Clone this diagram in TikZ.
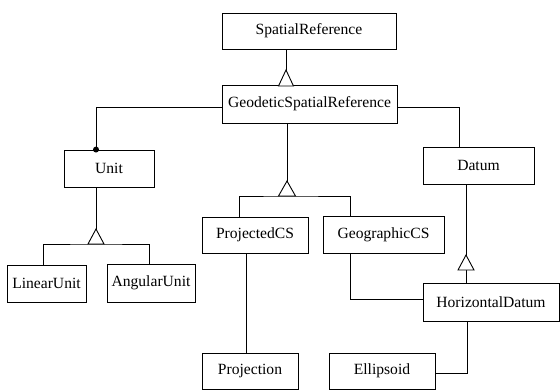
\documentclass[tikz,border=0pt]{standalone}
\usepackage{fontspec}
\setmainfont{Liberation Serif}
\begin{document}
\begin{tikzpicture}[x=1bp,y=-1bp,
  box/.style={draw, line width=0.9bp, inner sep=0pt, font=\fontsize{15.6bp}{18bp}\selectfont},
  conn/.style={line width=0.9bp},
  tri/.style={draw, fill=white, line width=0.9bp, line join=miter}]
\useasboundingbox (0,0) rectangle (560,390);
\fill[white] (0,0) rectangle (560,390);
% boxes
\node[box, minimum width=174bp, minimum height=36bp] (sr)    at (309,31)    {SpatialReference};
\node[box, minimum width=175bp, minimum height=38bp] (gsr)   at (309.5,104) {GeodeticSpatialReference};
\node[box, minimum width=90bp,  minimum height=37bp] (unit)  at (109,168.5) {Unit};
\node[box, minimum width=79bp,  minimum height=37bp] (lin)   at (46.5,283.5){LinearUnit};
\node[box, minimum width=88bp,  minimum height=38bp] (ang)   at (151,283)   {AngularUnit};
\node[box, minimum width=111bp, minimum height=37bp] (datum) at (478.5,165.5){Datum};
\node[box, minimum width=106bp, minimum height=36bp] (pcs)   at (255,235)   {ProjectedCS};
\node[box, minimum width=121bp, minimum height=37bp] (gcs)   at (383.5,234.5){GeographicCS};
\node[box, minimum width=136bp, minimum height=38bp] (hd)    at (491,302)   {HorizontalDatum};
\node[box, minimum width=96bp,  minimum height=36bp] (proj)  at (250,371)   {Projection};
\node[box, minimum width=106bp, minimum height=36bp] (ell)   at (382,371)   {Ellipsoid};
% helper coordinates
\coordinate (xa) at (286,0);
\coordinate (xb) at (287,0);
\coordinate (xu) at (96,0);
\coordinate (xd) at (459,0);
\coordinate (xh) at (466,0);
\coordinate (xl) at (43,0);
\coordinate (xr) at (149,0);
\coordinate (xp) at (239,0);
\coordinate (xg) at (350,0);
\coordinate (xj) at (246,0);
\coordinate (xe) at (467,0);
\coordinate (jb) at (287,196);
\coordinate (ju) at (96,244);
\coordinate (ta) at (286,70);
\coordinate (tb) at (287,181);
\coordinate (tu) at (96,229);
\coordinate (th) at (466,255);
% connectors
\draw[conn] (sr.south -| xa) -- (gsr.north -| xa);
\draw[conn] ([yshift=-3bp]gsr.west) -| (unit.north -| xu);
\fill (unit.north -| xu) circle (3bp);
\draw[conn] ([yshift=-3bp]gsr.east) -| (datum.north -| xd);
\draw[conn] (gsr.south -| xb) -- (jb);
\draw[conn] (pcs.north -| xp) |- (jb) -| (gcs.north -| xg);
\draw[conn] (unit.south -| xu) -- (ju);
\draw[conn] (lin.north -| xl) |- (ju) -| (ang.north -| xr);
\draw[conn] (datum.south -| xh) -- (hd.north -| xh);
\draw[conn] (pcs.south -| xj) -- (proj.north -| xj);
\draw[conn] (gcs.south -| xg) |- ([yshift=3bp]hd.west);
\draw[conn] ([yshift=-2bp]ell.east) -| (hd.south -| xe);
% generalization triangles
\draw[tri] (ta) -- ++(-7.5,16) -- ++(15,0) -- cycle;
\draw[tri] (tb) -- ++(-8.5,15) -- ++(17,0) -- cycle;
\draw[tri] (tu) -- ++(-8,15) -- ++(16,0) -- cycle;
\draw[tri] (th) -- ++(-8,15) -- ++(16,0) -- cycle;
\end{tikzpicture}
\end{document}
